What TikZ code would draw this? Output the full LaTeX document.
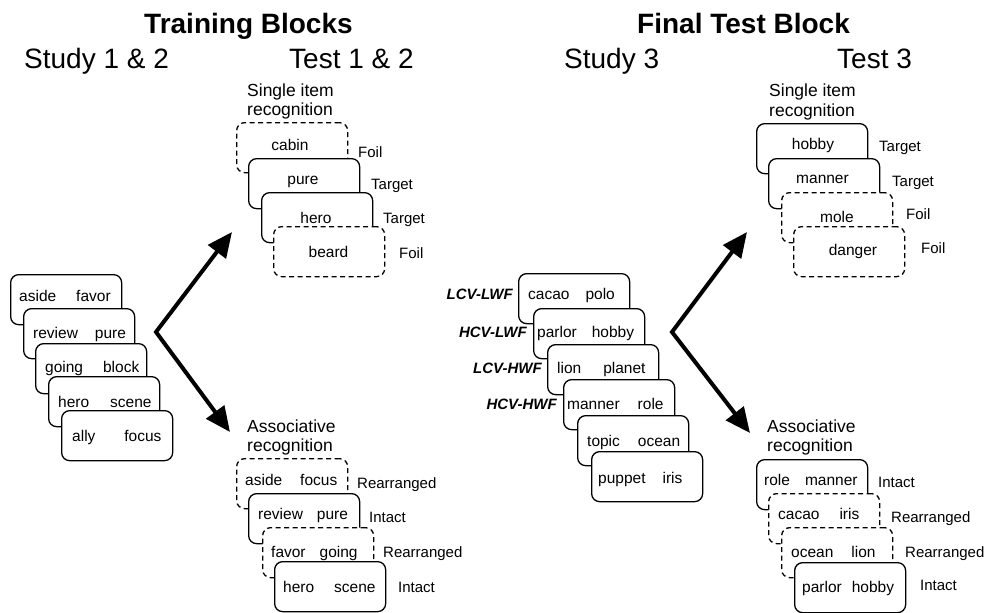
\documentclass[tikz,border=0pt]{standalone}
\usepackage{fontspec}
\setmainfont{Liberation Sans}
\usetikzlibrary{arrows.meta}
\newcommand\wordfont{\fontsize{15.5pt}{18pt}\selectfont}
\newcommand\lblfont{\fontsize{15pt}{18pt}\selectfont}
\newcommand\condfont{\fontsize{15pt}{18pt}\selectfont\bfseries\itshape}
\newcommand\subfont{\fontsize{17.5pt}{21pt}\selectfont}
\newcommand\headfont{\fontsize{28pt}{33pt}\selectfont}
\newcommand\titlefont{\fontsize{28pt}{33pt}\selectfont\bfseries}
\begin{document}
\begin{tikzpicture}[x=1pt,y=-1pt,
  card/.style={draw, line width=1.3pt, rounded corners=8pt, fill=white,
    minimum width=111pt, minimum height=50pt, anchor=north west, inner sep=0pt},
  foilcard/.style={card, dash pattern=on 5pt off 3.5pt},
  word/.style={anchor=base west, inner sep=0pt, font=\wordfont},
  cword/.style={anchor=base, inner sep=0pt, font=\wordfont},
  lbl/.style={anchor=base west, inner sep=0pt, font=\lblfont},
  cond/.style={anchor=base east, inner sep=0pt, font=\condfont},
  sub/.style={anchor=base west, inner sep=0pt, font=\subfont},
  head/.style={anchor=base west, inner sep=0pt, font=\headfont},
  title/.style={anchor=base west, inner sep=0pt, font=\titlefont},
  flow/.style={line width=4pt, line join=miter,
    {Triangle[length=25pt,width=22pt]}-{Triangle[length=25pt,width=22pt]}}
]
\fill[white] (0,0) rectangle (989,613);
\useasboundingbox (0,0) rectangle (989,613);

% headings
\node[title] (hTrain) at (144,34) {Training Blocks};
\node[title] (hFinal) at (637,34) {Final Test Block};
\node[head] (hS12) at (24,68) {Study 1 \& 2};
\node[head] (hT12) at (289,68) {Test 1 \& 2};
\node[head] (hS3) at (564,68) {Study 3};
\node[head] (hT3) at (837,68) {Test 3};

% Study 1 & 2 word pairs
\node[card] (s1a) at (10,274) {};
\node[word] (s1at) at (19,301) {aside\hskip20pt favor};
\node[card] (s1b) at (23,308) {};
\node[word] (s1bt) at (33,338) {review\hskip17pt pure};
\node[card] (s1c) at (35,343) {};
\node[word] (s1ct) at (45,372) {going\hskip20pt block};
\node[card] (s1d) at (48,376) {};
\node[word] (s1dt) at (58,407) {hero\hskip21pt scene};
\node[card] (s1e) at (61,410) {};
\node[word] (s1et) at (72,441) {ally\hskip29pt focus};

% Test 1 & 2: single item recognition
\node[sub] (t1s1) at (247,96) {Single item};
\node[sub] (t1s2) at (247,115) {recognition};
\node[foilcard] (t1a) at (236,122) {};
\node[cword] (t1at) at (290,150) {cabin};
\node[lbl] (t1al) at (358,157) {Foil};
\node[card] (t1b) at (248,158) {};
\node[cword] (t1bt) at (303,184) {pure};
\node[lbl] (t1bl) at (371,189) {Target};
\node[card] (t1c) at (261,192) {};
\node[cword] (t1ct) at (316,223) {hero};
\node[lbl] (t1cl) at (383,223) {Target};
\node[foilcard] (t1d) at (273,226) {};
\node[cword] (t1dt) at (328.5,257) {beard};
\node[lbl] (t1dl) at (399,258) {Foil};

% Test 1 & 2: associative recognition
\node[sub] (t1r1) at (247,432) {Associative};
\node[sub] (t1r2) at (247,451) {recognition};
\node[foilcard] (t1e) at (236,458) {};
\node[word] (t1et) at (245,485) {aside\hskip18pt focus};
\node[lbl] (t1el) at (357,488) {Rearranged};
\node[card] (t1f) at (248,493) {};
\node[word] (t1ft) at (258,519) {review\hskip14pt pure};
\node[lbl] (t1fl) at (369,522) {Intact};
\node[foilcard] (t1g) at (262,527) {};
\node[word] (t1gt) at (271,557) {favor\hskip14pt going};
\node[lbl] (t1gl) at (383,557) {Rearranged};
\node[card] (t1h) at (274,561) {};
\node[word] (t1ht) at (283,592) {hero\hskip20pt scene};
\node[lbl] (t1hl) at (398,592) {Intact};

% Study 3 word pairs with their conditions
\node[card] (s3a) at (518,273) {};
\node[word] (s3at) at (528,299) {cacao\hskip16pt polo};
\node[cond] (s3al) at (513,299) {LCV-LWF};
\node[card] (s3b) at (533,308) {};
\node[word] (s3bt) at (537,337) {parlor\hskip15pt hobby};
\node[cond] (s3bl) at (527,337) {HCV-LWF};
\node[card] (s3c) at (547,344) {};
\node[word] (s3ct) at (557,373) {lion\hskip22pt planet};
\node[cond] (s3cl) at (542,373) {LCV-HWF};
\node[card] (s3d) at (563,379) {};
\node[word] (s3dt) at (567,409) {manner\hskip18pt role};
\node[cond] (s3dl) at (557,409) {HCV-HWF};
\node[card] (s3e) at (577,415) {};
\node[word] (s3et) at (587,446) {topic\hskip18pt ocean};
\node[card] (s3f) at (591,451) {};
\node[word] (s3ft) at (598,483) {puppet\hskip17pt iris};

% Test 3: single item recognition
\node[sub] (t3s1) at (769,96) {Single item};
\node[sub] (t3s2) at (769,116) {recognition};
\node[card] (t3a) at (756,123) {};
\node[cword] (t3at) at (813,149) {hobby};
\node[lbl] (t3al) at (879,151) {Target};
\node[card] (t3b) at (768,158) {};
\node[cword] (t3bt) at (822.5,183) {manner};
\node[lbl] (t3bl) at (892,186) {Target};
\node[foilcard] (t3c) at (781,192) {};
\node[cword] (t3ct) at (837,222) {mole};
\node[lbl] (t3cl) at (906,219) {Foil};
\node[foilcard] (t3d) at (793,226) {};
\node[cword] (t3dt) at (853,255) {danger};
\node[lbl] (t3dl) at (921,253) {Foil};

% Test 3: associative recognition
\node[sub] (t3r1) at (767,432) {Associative};
\node[sub] (t3r2) at (767,451) {recognition};
\node[card] (t3e) at (756,459) {};
\node[word] (t3et) at (764,485) {role\hskip15pt manner};
\node[lbl] (t3el) at (878,487) {Intact};
\node[foilcard] (t3f) at (768,493) {};
\node[word] (t3ft) at (778,519) {cacao\hskip20pt iris};
\node[lbl] (t3fl) at (891,522) {Rearranged};
\node[foilcard] (t3g) at (781,527) {};
\node[word] (t3gt) at (791,557) {ocean\hskip18pt lion};
\node[lbl] (t3gl) at (905,557) {Rearranged};
\node[card] (t3h) at (794,562) {};
\node[word] (t3ht) at (802,592) {parlor\hskip10pt hobby};
\node[lbl] (t3hl) at (920,590) {Intact};

% branching arrows from study to test
\coordinate (a1v) at (156,332);
\coordinate (a1u) at (232,232);
\coordinate (a1d) at (230,432);
\draw[flow] (a1u) -- (a1v) -- (a1d);
\coordinate (a2v) at (672,332);
\coordinate (a2u) at (747,232);
\coordinate (a2d) at (750,433);
\draw[flow] (a2u) -- (a2v) -- (a2d);
\end{tikzpicture}
\end{document}
